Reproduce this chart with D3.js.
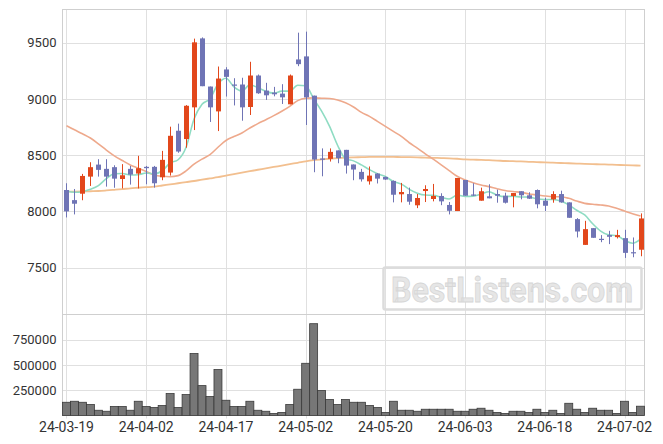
<!DOCTYPE html>
<html><head><meta charset="utf-8">
<script src="https://cdn.jsdelivr.net/npm/d3@7"></script>
<style>body{margin:0;background:#fff}svg{display:block}text{font-family:Roboto,"Liberation Sans",sans-serif}</style>
</head><body><svg id="c" width="663" height="444"></svg>
<script>
const dates=["24-03-19","24-03-20","24-03-21","24-03-22","24-03-25","24-03-26","24-03-27","24-03-28","24-03-29","24-04-01",
"24-04-02","24-04-03","24-04-04","24-04-05","24-04-08","24-04-09","24-04-11","24-04-12","24-04-15","24-04-16",
"24-04-17","24-04-18","24-04-19","24-04-22","24-04-23","24-04-24","24-04-25","24-04-26","24-04-29","24-04-30",
"24-05-02","24-05-03","24-05-07","24-05-08","24-05-09","24-05-10","24-05-13","24-05-14","24-05-16","24-05-17",
"24-05-20","24-05-21","24-05-22","24-05-23","24-05-24","24-05-27","24-05-28","24-05-29","24-05-30","24-05-31",
"24-06-03","24-06-04","24-06-05","24-06-07","24-06-10","24-06-11","24-06-12","24-06-13","24-06-14","24-06-17",
"24-06-18","24-06-19","24-06-20","24-06-21","24-06-24","24-06-25","24-06-26","24-06-27","24-06-28","24-07-01",
"24-07-02","24-07-03","24-07-04"];
const openP=[8190,8100,8157,8309,8416,8378,8393,8288,8378,8336,8396,8396,8303,8345,8717,8643,8925,9538,9110,8889,
9262,9128,9128,8928,9208,9074,9056,9047,8952,9351,9378,9029,8470,8467,8542,8547,8417,8351,8267,8336,
8306,8271,8152,8154,8054,8181,8110,8137,8057,8003,8279,8150,8095,8134,8154,8139,8137,8179,8143,8190,
8095,8107,8154,8080,7931,7702,7851,7756,7789,7771,7762,7637,7659];
const highP=[8250,8199,8333,8437,8464,8464,8410,8420,8404,8494,8404,8404,8538,8753,8780,8945,9536,9547,9110,9288,
9282,9184,9188,9330,9217,9143,9107,9131,9217,9589,9598,9029,8560,8560,8542,8547,8417,8378,8399,8340,
8310,8275,8253,8211,8154,8232,8244,8161,8083,8297,8279,8250,8211,8241,8193,8166,8163,8179,8170,8195,
8121,8179,8184,8080,7940,7916,7851,7789,7827,7836,7836,7768,7982];
const lowP=[7946,7973,8099,8226,8309,8220,8210,8204,8238,8204,8241,8211,8277,8318,8521,8566,8723,9113,8795,8714,
9021,8942,8806,8857,9045,8991,9023,8955,8952,9291,8768,8348,8312,8443,8428,8336,8277,8265,8238,8248,
8280,8080,8080,8059,8029,8083,8089,8055,7973,8003,8139,8137,8095,8116,8077,8070,8036,8107,8110,8027,
8003,8077,8077,7943,7768,7702,7765,7726,7709,7759,7586,7592,7601];
const closeP=[8000,8068,8315,8393,8369,8309,8291,8321,8327,8384,8384,8250,8458,8672,8532,8939,9503,9113,8925,9181,
9196,9119,8925,9208,9050,9032,9041,9014,9208,9309,9014,8461,8465,8529,8473,8407,8372,8285,8318,8291,
8283,8148,8172,8086,8119,8199,8137,8089,8005,8297,8139,8146,8179,8116,8139,8077,8163,8143,8113,8063,
8050,8154,8080,7943,7821,7842,7765,7753,7774,7789,7631,7634,7937];
const volume=[131000,141000,131000,109000,52000,42000,89000,89000,52000,141000,
89000,79000,99000,217000,79000,207000,613000,296000,188000,455000,
151000,89000,89000,141000,52000,42000,20000,30000,109000,260000,
517000,909000,247000,158000,109000,158000,131000,131000,99000,79000,
30000,141000,52000,52000,42000,62000,62000,62000,62000,42000,
42000,62000,72000,52000,30000,20000,42000,42000,30000,62000,
30000,52000,20000,121000,62000,30000,72000,52000,52000,20000,
141000,30000,92000];
const ma5=[8184,8170,8175,8196,8229,8291,8335,8337,8323,8326,8341,8333,8361,8430,8459,8570,8821,8952,9002,9132,
9184,9107,9069,9126,9100,9067,9051,9069,9069,9121,9117,9001,8891,8756,8588,8467,8449,8413,8371,8335,
8310,8265,8242,8196,8162,8145,8143,8126,8110,8145,8133,8135,8153,8175,8144,8131,8135,8128,8127,8112,
8106,8105,8092,8058,8010,7968,7890,7825,7791,7785,7742,7716,7753];
const ma20=[8762,8725,8690,8652,8601,8545,8494,8452,8413,8384,8354,8324,8312,8308,8318,8360,8420,8465,8505,8570,
8630,8665,8697,8741,8780,8815,8851,8890,8934,8985,9006,9009,9006,9003,8990,8965,8928,8880,8845,8800,
8756,8711,8667,8610,8563,8512,8464,8414,8363,8312,8280,8255,8235,8220,8202,8186,8176,8170,8155,8146,
8137,8131,8130,8116,8092,8071,8063,8057,8048,8027,8003,7979,7958];
const ma60=[8175,8176,8177,8179,8181,8186,8192,8198,8205,8210,8215,8220,8230,8240,8250,8260,8270,8282,8293,8304,
8318,8332,8345,8357,8370,8382,8395,8407,8420,8432,8445,8455,8462,8468,8473,8477,8480,8482,8484,8485,
8485,8484,8483,8482,8480,8478,8476,8474,8472,8468,8462,8460,8458,8455,8452,8448,8446,8444,8441,8438,
8435,8433,8430,8428,8425,8422,8420,8418,8416,8414,8411,8409,8407];
const priceTicks=[7500,8000,8500,9000,9500];
const volumeTicks=[250000,500000,750000];
const dateTicks=["24-03-19","24-04-02","24-04-17","24-05-02","24-05-20","24-06-03","24-06-18","24-07-02"];

const svg=d3.select("#c");
const L=62.5,R=644.5,mainTop=9.5,mainBot=314.5,volBot=415.5;
const idx=d3.range(dates.length);
const x=d3.scaleBand().domain(idx).range([L,R]).padding(0);
const cx=i=>x(i)+x.bandwidth()/2;
const y=d3.scaleLinear().domain([7083,9795]).range([mainBot,mainTop]);
const yv=d3.scaleLinear().domain([0,1000000]).range([volBot,mainBot]);
const tickIdx=dateTicks.map(d=>dates.indexOf(d));

const grid=svg.append("g").attr("stroke","#e0e0e0").attr("stroke-width",1);
tickIdx.forEach(i=>grid.append("line").attr("x1",Math.round(cx(i))+0.5).attr("x2",Math.round(cx(i))+0.5).attr("y1",mainTop).attr("y2",volBot+3));
priceTicks.forEach(v=>grid.append("line").attr("x1",L).attr("x2",R).attr("y1",Math.round(y(v))+0.5).attr("y2",Math.round(y(v))+0.5));
volumeTicks.forEach(v=>grid.append("line").attr("x1",L).attr("x2",R).attr("y1",Math.round(yv(v))+0.5).attr("y2",Math.round(yv(v))+0.5));

// watermark
const wm=svg.append("g");
wm.append("rect").attr("x",383.5).attr("y",267.5).attr("width",258).attr("height",42).attr("rx",2)
  .attr("fill","none").attr("stroke","#dcdcdc").attr("stroke-width",2.5);
wm.append("text").attr("x",391).attr("y",301.5).attr("font-family","'Liberation Sans',Arial,sans-serif")
  .attr("font-weight","bold").attr("font-size",35).attr("textLength",242).attr("lengthAdjust","spacingAndGlyphs")
  .attr("fill","#e6e6e6").attr("stroke","#d6d6d6").attr("stroke-width",0.8).text("BestListens.com");

// frame
const fr=svg.append("g").attr("stroke","#cfcfcf").attr("stroke-width",1).attr("fill","none");
fr.append("rect").attr("x",L).attr("y",mainTop).attr("width",R-L).attr("height",volBot-mainTop);
fr.append("line").attr("x1",L).attr("x2",R).attr("y1",mainBot).attr("y2",mainBot);

// volume
svg.append("g").selectAll("rect").data(idx).join("rect")
  .attr("x",i=>x(i)).attr("width",x.bandwidth()).attr("y",i=>yv(volume[i])).attr("height",i=>yv(0)-yv(volume[i]))
  .attr("fill","#777777").attr("stroke","#3a3a3a").attr("stroke-width",0.8);

// moving averages
const line=arr=>d3.line().x((d,i)=>cx(i)).y(d=>y(d)).curve(d3.curveMonotoneX)(arr);
svg.append("path").attr("d",line(ma60)).attr("fill","none").attr("stroke","#f2bf8f").attr("stroke-width",1.8);
svg.append("path").attr("d",line(ma20)).attr("fill","none").attr("stroke","#eea98c").attr("stroke-width",1.6);
svg.append("path").attr("d",line(ma5)).attr("fill","none").attr("stroke","#8fdcc3").attr("stroke-width",1.6);

// candles
const up="#e2471b",down="#6f74b5";
const cg=svg.append("g").selectAll("g").data(idx).join("g");
cg.append("line").attr("x1",i=>Math.round(cx(i))+0.5).attr("x2",i=>Math.round(cx(i))+0.5)
  .attr("y1",i=>y(highP[i])).attr("y2",i=>y(lowP[i]))
  .attr("stroke",i=>closeP[i]>=openP[i]?up:down).attr("stroke-width",1);
cg.append("rect").attr("x",i=>Math.round(cx(i))+0.5-2.5).attr("width",5)
  .attr("y",i=>y(Math.max(openP[i],closeP[i])))
  .attr("height",i=>Math.max(1.2,Math.abs(y(openP[i])-y(closeP[i]))))
  .attr("fill",i=>closeP[i]>=openP[i]?up:down);

// axes
const ay=svg.append("g").attr("transform",`translate(${L},0)`)
  .call(d3.axisLeft(y).tickValues(priceTicks).tickSize(0).tickPadding(6).tickFormat(d3.format("d")));
const av=svg.append("g").attr("transform",`translate(${L},0)`)
  .call(d3.axisLeft(yv).tickValues(volumeTicks).tickSize(0).tickPadding(6).tickFormat(d3.format("d")));
const ax=svg.append("g").attr("transform",`translate(0,${volBot})`)
  .call(d3.axisBottom(x).tickValues(tickIdx).tickSize(0).tickPadding(7).tickFormat(i=>dates[i]));
[ay,av,ax].forEach(g=>{g.select(".domain").remove();g.selectAll("text").attr("fill","#333").attr("font-family","Roboto,sans-serif");});
ay.selectAll("text").attr("font-size",13);
av.selectAll("text").attr("font-size",13);
ax.selectAll("text").attr("font-size",14);
</script></body></html>
